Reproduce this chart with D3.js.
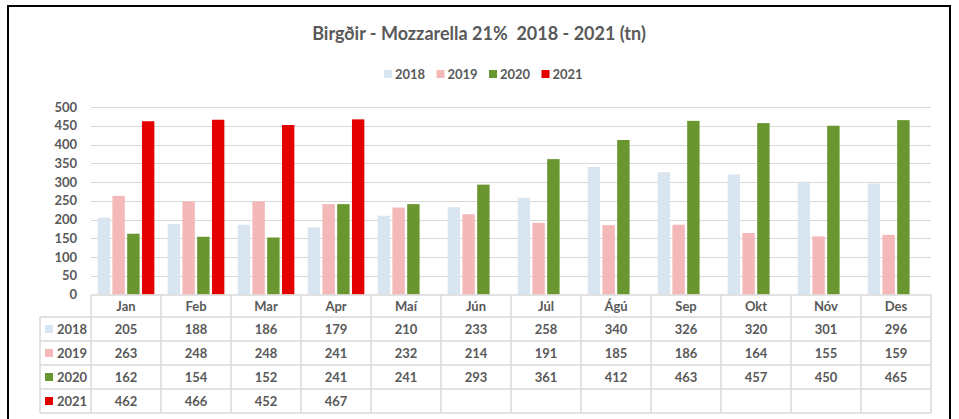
<!DOCTYPE html>
<html>
<head>
<meta charset="utf-8">
<script src="https://cdn.jsdelivr.net/npm/d3@7"></script>
<style>
  body { margin: 0; background: #fff; }
  svg { display: block; font-family: Lato, "Open Sans", sans-serif; font-weight: 700; }
  .lbl { fill: #595959; font-size: 13px; }
</style>
</head>
<body>
<svg id="chart" width="959" height="419"></svg>
<script>
const months = ["Jan", "Feb", "Mar", "Apr", "Maí", "Jún", "Júl", "Ágú", "Sep", "Okt", "Nóv", "Des"];
const years = ["2018", "2019", "2020", "2021"];
const v2018 = [205, 188, 186, 179, 210, 233, 258, 340, 326, 320, 301, 296];
const v2019 = [263, 248, 248, 241, 232, 214, 191, 185, 186, 164, 155, 159];
const v2020 = [162, 154, 152, 241, 241, 293, 361, 412, 463, 457, 450, 465];
const v2021 = [462, 466, 452, 467, null, null, null, null, null, null, null, null];
const yTicks = [0, 50, 100, 150, 200, 250, 300, 350, 400, 450, 500];
const colors = ["#d9e6f2", "#f4b8b8", "#6a962f", "#e30000"];

const series = years.map((y, i) => ({ year: y, values: [v2018, v2019, v2020, v2021][i], color: colors[i] }));

const svg = d3.select("#chart");

// chart frame
svg.append("rect")
  .attr("x", 8).attr("y", 6).attr("width", 942).attr("height", 430)
  .attr("fill", "none").attr("stroke", "#000").attr("stroke-width", 2);

// title
svg.append("text")
  .attr("x", 479).attr("y", 40)
  .attr("text-anchor", "middle")
  .attr("fill", "#595959")
  .style("font-size", "18px")
  .style("white-space", "pre")
  .text("Birgðir - Mozzarella 21%  2018 - 2021 (tn)");

// legend
const legend = svg.selectAll("g.legend").data(series).enter().append("g")
  .attr("class", "legend")
  .attr("transform", (d, i) => `translate(${384 + i * 52.5}, 70)`);
legend.append("rect").attr("width", 8).attr("height", 8).attr("fill", d => d.color);
legend.append("text").attr("class", "lbl").attr("x", 11).attr("y", 8.5).text(d => d.year);

// scales
const x = d3.scaleBand().domain(months).range([91, 931]).paddingInner(0.19).paddingOuter(0.095);
const xs = d3.scaleBand().domain(years).range([0, x.bandwidth()]).paddingInner(0.16);
const y = d3.scaleLinear().domain([0, 500]).range([294.5, 107]);

// grid
svg.append("g").selectAll("line").data(yTicks.slice(1)).enter().append("line")
  .attr("x1", 91).attr("x2", 931)
  .attr("y1", d => Math.round(y(d)) + 0.5).attr("y2", d => Math.round(y(d)) + 0.5)
  .attr("stroke", "#d9d9d9").attr("stroke-width", 1);

// y axis labels
svg.append("g").selectAll("text").data(yTicks).enter().append("text")
  .attr("class", "lbl")
  .attr("x", 77).attr("y", d => y(d) + 4.5)
  .attr("text-anchor", "end")
  .text(d => d);

// bars
const groups = svg.append("g").selectAll("g").data(series).enter().append("g")
  .attr("fill", d => d.color);
groups.selectAll("rect")
  .data(d => d.values.map((v, i) => ({ year: d.year, month: months[i], v })).filter(e => e.v != null))
  .enter().append("rect")
  .attr("x", d => x(d.month) + xs(d.year))
  .attr("width", xs.bandwidth())
  .attr("y", d => y(d.v))
  .attr("height", d => y(0) - y(d.v));

// data table
const rowTop = 317, rowH = 24, headTop = 295;
const tableLeft = 40, tableRight = 931;
const tbl = svg.append("g").attr("stroke", "#d9d9d9").attr("stroke-width", 1.5);
const bounds = months.map(m => x(m) - x.step() * x.paddingInner() / 2).concat([tableRight]);
bounds[0] = 91;

tbl.append("line").attr("x1", 91).attr("x2", tableRight).attr("y1", headTop).attr("y2", headTop);
d3.range(years.length + 1).forEach(i => {
  tbl.append("line").attr("x1", tableLeft).attr("x2", tableRight)
    .attr("y1", rowTop + i * rowH).attr("y2", rowTop + i * rowH);
});
bounds.forEach(b => {
  tbl.append("line").attr("x1", b).attr("x2", b).attr("y1", headTop).attr("y2", rowTop + years.length * rowH);
});
tbl.append("line").attr("x1", tableLeft).attr("x2", tableLeft)
  .attr("y1", rowTop).attr("y2", rowTop + years.length * rowH);

// month header
svg.append("g").selectAll("text").data(months).enter().append("text")
  .attr("class", "lbl")
  .attr("x", d => x(d) + x.bandwidth() / 2)
  .attr("y", headTop + 15.5)
  .attr("text-anchor", "middle")
  .text(d => d);

// row labels + values
const rows = svg.append("g").selectAll("g").data(series).enter().append("g")
  .attr("transform", (d, i) => `translate(0, ${rowTop + i * rowH})`);
rows.append("rect").attr("x", 45).attr("y", 8).attr("width", 8).attr("height", 8).attr("fill", d => d.color);
rows.append("text").attr("class", "lbl").attr("x", 57).attr("y", 16.5).text(d => d.year);
rows.selectAll("text.val")
  .data(d => d.values.map((v, i) => ({ month: months[i], v })).filter(e => e.v != null))
  .enter().append("text")
  .attr("class", "lbl val")
  .attr("x", d => x(d.month) + x.bandwidth() / 2)
  .attr("y", 16.5)
  .attr("text-anchor", "middle")
  .text(d => d.v);
</script>
</body>
</html>
